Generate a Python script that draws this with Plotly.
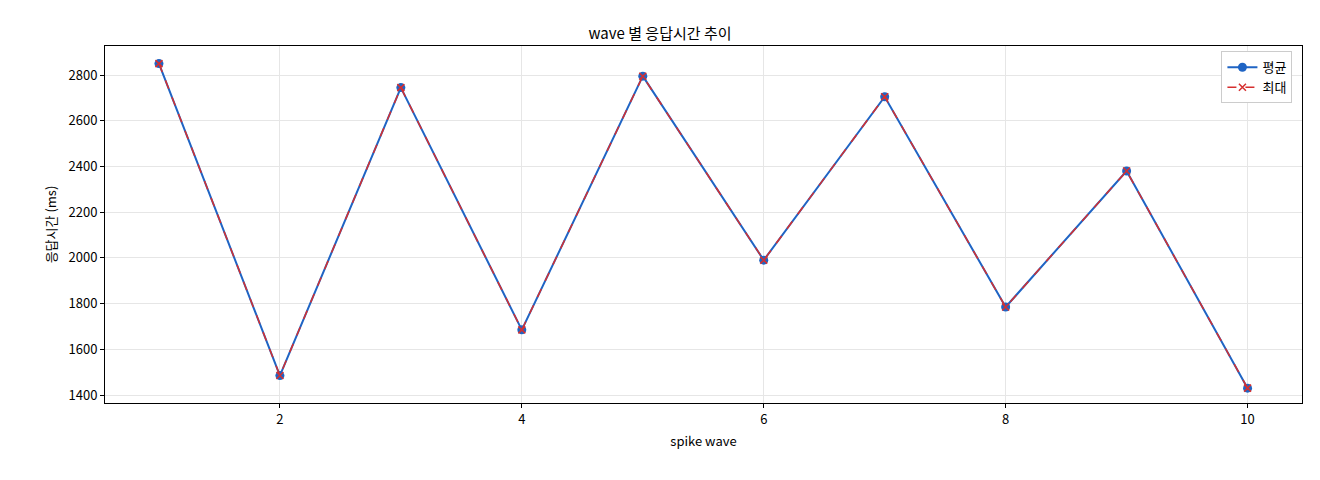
import plotly.graph_objects as go

waves = [1, 2, 3, 4, 5, 6, 7, 8, 9, 10]
avg_ms = [2850, 1485, 2745, 1685, 2795, 1990, 2705, 1785, 2380, 1430]
max_ms = [2850, 1485, 2745, 1685, 2795, 1990, 2705, 1785, 2380, 1430]

font = "Noto Sans CJK KR"

fig = go.Figure()
fig.add_trace(go.Scatter(x=waves, y=avg_ms, name="평균", mode="lines+markers",
                         line=dict(color="#1f64c4", width=2),
                         marker=dict(symbol="circle", size=9, color="#1f64c4")))
fig.add_trace(go.Scatter(x=waves, y=max_ms, name="최대", mode="lines+markers",
                         line=dict(color="#d62f2f", width=1.5, dash="dash"),
                         marker=dict(symbol="x-thin", size=7,
                                     line=dict(color="#d62f2f", width=1.5))))

axis = dict(showline=True, linecolor="black", mirror=True, ticks="outside",
            ticklen=4, tickcolor="black", showgrid=True, gridcolor="#e6e6e6",
            zeroline=False, tickfont=dict(size=13, color="black"))
fig.update_layout(
    width=1304, height=464, plot_bgcolor="white", paper_bgcolor="white",
    margin=dict(l=97, r=10, t=38, b=69),
    font=dict(family=font, color="black"),
    title=dict(text="wave 별 응답시간 추이", x=0.5, xanchor="center", y=0.955,
               font=dict(size=15)),
    xaxis=dict(axis, range=[0.554, 10.45], tickvals=[2, 4, 6, 8, 10],
               title=dict(text="spike wave", font=dict(size=13), standoff=10)),
    yaxis=dict(axis, range=[1365, 2927], dtick=200,
               title=dict(text="응답시간 (ms)", font=dict(size=13), standoff=8)),
    legend=dict(x=0.992, y=0.985, xanchor="right", yanchor="top",
                bordercolor="#cccccc", borderwidth=1, bgcolor="white",
                font=dict(size=13)),
)
fig.write_html("out.html")
